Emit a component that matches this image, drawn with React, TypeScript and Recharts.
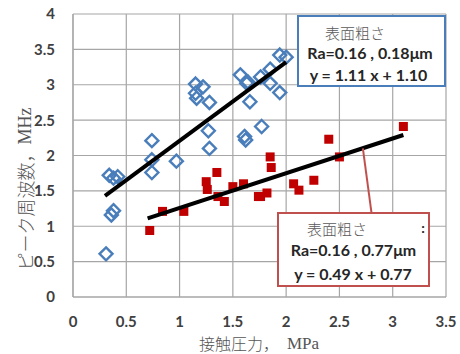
import React from 'react';
import { ScatterChart, Scatter, XAxis, YAxis, CartesianGrid } from 'recharts';

const xTicks = [0, 0.5, 1, 1.5, 2, 2.5, 3, 3.5];
const yTicks = [0, 0.5, 1, 1.5, 2, 2.5, 3, 3.5, 4];

// Ra = 0.16, 0.18 µm (blue diamonds)
const smoothX = [0.31, 0.36, 0.38, 0.34, 0.38, 0.42, 0.74, 0.74, 0.74, 0.97, 1.15, 1.22, 1.15, 1.16, 1.28, 1.27, 1.28, 1.57, 1.64, 1.66, 1.62, 1.77, 1.76, 1.94, 2.0, 1.85, 1.85, 1.94, 1.61, 1.63];
const smoothY = [0.61, 1.16, 1.22, 1.72, 1.68, 1.7, 2.21, 1.94, 1.76, 1.92, 3.01, 2.97, 2.88, 2.81, 2.75, 2.35, 2.1, 3.14, 3.04, 2.76, 2.22, 2.41, 3.11, 3.42, 3.39, 3.22, 3.02, 2.89, 2.27, 3.02];

// Ra = 0.16, 0.77 µm (red squares)
const roughX = [0.72, 0.84, 1.04, 1.25, 1.26, 1.35, 1.36, 1.42, 1.5, 1.6, 1.74, 1.76, 1.82, 1.85, 1.86, 2.07, 2.12, 2.26, 2.4, 2.5, 3.1];
const roughY = [0.94, 1.21, 1.21, 1.63, 1.52, 1.76, 1.42, 1.35, 1.56, 1.6, 1.42, 1.42, 1.47, 1.98, 1.83, 1.6, 1.51, 1.65, 2.23, 1.98, 2.41];

// Trend line end points
const smoothTrend = [{ x: 0.3, y: 1.43 }, { x: 2.0, y: 3.32 }];
const roughTrend = [{ x: 0.7, y: 1.11 }, { x: 3.1, y: 2.29 }];
const leader = [{ x: 2.72, y: 2.1 }, { x: 2.8, y: 1.2 }];

const smoothData = smoothX.map((x, i) => ({ x, y: smoothY[i] }));
const roughData = roughX.map((x, i) => ({ x, y: roughY[i] }));

const BLUE = '#4a7ebb';
const RED = '#c00000';
const BOXRED = '#c0504d';
const GRID = '#a6a6a6';
const TICKFONT = 'Lato, "Open Sans", sans-serif';
const JPFONT = '"Noto Sans CJK JP", sans-serif';

const Diamond = (props: any) => {
  const { cx, cy } = props;
  if (cx == null || cy == null) return <g />;
  const r = 6.5;
  return (
    <polygon
      points={`${cx},${cy - r} ${cx + r},${cy} ${cx},${cy + r} ${cx - r},${cy}`}
      fill="none"
      stroke={BLUE}
      strokeWidth={2.4}
    />
  );
};

const Square = (props: any) => {
  const { cx, cy } = props;
  if (cx == null || cy == null) return <g />;
  const s = 9;
  return <rect x={cx - s / 2} y={cy - s / 2} width={s} height={s} fill={RED} />;
};

const NoShape = () => <g />;

const XTick = (props: any) => {
  const { x, y, payload } = props;
  return (
    <text x={x} y={y + 29.5} textAnchor="middle" fontFamily={TICKFONT} fontWeight={700} fontSize={15} fill="#404040">
      {payload.value}
    </text>
  );
};

const YTick = (props: any) => {
  const { x, y, payload } = props;
  return (
    <text x={x - 18} y={y + 5.4} textAnchor="end" fontFamily={TICKFONT} fontWeight={700} fontSize={15} fill="#404040">
      {payload.value}
    </text>
  );
};

const boxText: React.CSSProperties = {
  position: 'absolute',
  whiteSpace: 'nowrap',
  transform: 'translate(-50%, -50%)',
  lineHeight: 1,
};

export default function App() {
  return (
    <div style={{ position: 'absolute', left: 0, top: 0, width: 460, height: 354, background: '#fff' }}>
      <ScatterChart width={460} height={354} margin={{ top: 14, right: 14, bottom: 0, left: 0 }}>
        <CartesianGrid stroke={GRID} strokeWidth={1.2} />
        <XAxis
          type="number"
          dataKey="x"
          domain={[0, 3.5]}
          ticks={xTicks}
          height={57}
          tickSize={0}
          tickMargin={0}
          tickLine={false}
          axisLine={{ stroke: GRID, strokeWidth: 1.2 }}
          tick={<XTick />}
          interval={0}
        />
        <YAxis
          type="number"
          dataKey="y"
          domain={[0, 4]}
          ticks={yTicks}
          width={73}
          tickSize={0}
          tickMargin={0}
          tickLine={false}
          axisLine={{ stroke: GRID, strokeWidth: 1.2 }}
          tick={<YTick />}
          interval={0}
        />
        <Scatter data={smoothData} shape={<Diamond />} isAnimationActive={false} />
        <Scatter data={roughData} shape={<Square />} isAnimationActive={false} />
        <Scatter data={smoothTrend} shape={<NoShape />} line={{ stroke: '#000', strokeWidth: 4 }} isAnimationActive={false} />
        <Scatter data={roughTrend} shape={<NoShape />} line={{ stroke: '#000', strokeWidth: 4 }} isAnimationActive={false} />
        <Scatter data={leader} shape={<NoShape />} line={{ stroke: BOXRED, strokeWidth: 2 }} isAnimationActive={false} />
      </ScatterChart>

      {/* axis titles */}
      <svg width={460} height={354} style={{ position: 'absolute', left: 0, top: 0, pointerEvents: 'none' }}>
        <text
          x={25}
          y={189}
          transform="rotate(-90, 25, 189)"
          textAnchor="middle"
          dominantBaseline="central"
          fontSize={18}
          fill="#555"
          fontFamily={JPFONT}
          fontWeight={300}
        >
          ピーク周波数，<tspan fontFamily='"Liberation Serif", "DejaVu Serif", serif' fontWeight={400}>MHz</tspan>
        </text>
        <text
          x={259}
          y={343}
          textAnchor="middle"
          dominantBaseline="central"
          fontSize={16}
          fill="#555"
          fontFamily={JPFONT}
          fontWeight={300}
        >
          接触圧力，<tspan dx={8} fontFamily='"Liberation Serif", "DejaVu Serif", serif' fontSize={17} fontWeight={400}>MPa</tspan>
        </text>
      </svg>

      {/* blue annotation box */}
      <div
        style={{
          position: 'absolute',
          left: 297,
          top: 15,
          width: 149,
          height: 72,
          boxSizing: 'border-box',
          border: `2px solid ${BLUE}`,
          background: '#fff',
        }}
      />
      <div style={{ ...boxText, left: 355, top: 31.5, fontFamily: JPFONT, fontSize: 15, fontWeight: 300, color: '#595959' }}>表面粗さ</div>
      <div style={{ ...boxText, left: 370, top: 53, fontFamily: TICKFONT, fontSize: 16, fontWeight: 700, color: '#262626' }}>Ra=0.16 , 0.18μm</div>
      <div style={{ ...boxText, left: 368.5, top: 75, fontFamily: TICKFONT, fontSize: 16, fontWeight: 700, color: '#262626' }}>y = 1.11 x + 1.10</div>

      {/* red annotation box */}
      <div
        style={{
          position: 'absolute',
          left: 277,
          top: 212,
          width: 153,
          height: 75,
          boxSizing: 'border-box',
          border: `2px solid ${BOXRED}`,
          background: '#fff',
        }}
      />
      <div style={{ ...boxText, left: 337, top: 228, fontFamily: JPFONT, fontSize: 15, fontWeight: 300, color: '#595959' }}>表面粗さ</div>
      <div style={{ ...boxText, left: 423, top: 228, fontFamily: TICKFONT, fontSize: 14, fontWeight: 700, color: '#262626' }}>:</div>
      <div style={{ ...boxText, left: 353.5, top: 250, fontFamily: TICKFONT, fontSize: 16, fontWeight: 700, color: '#262626' }}>Ra=0.16 , 0.77μm</div>
      <div style={{ ...boxText, left: 353, top: 274, fontFamily: TICKFONT, fontSize: 16, fontWeight: 700, color: '#262626' }}>y = 0.49 x + 0.77</div>
    </div>
  );
}
